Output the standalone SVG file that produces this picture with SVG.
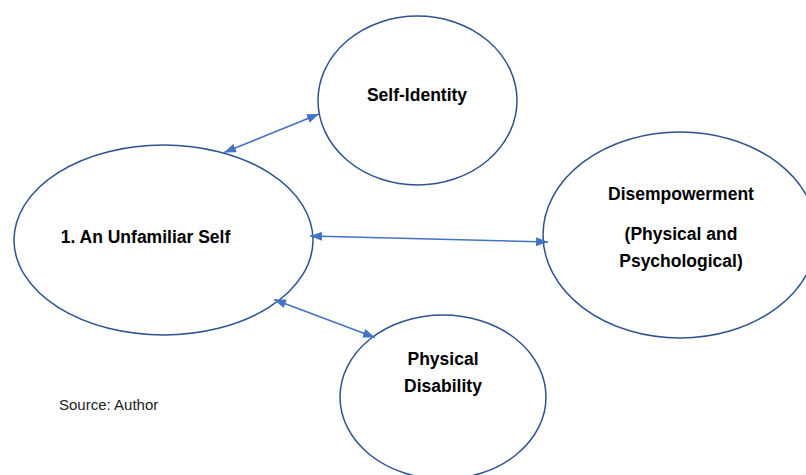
<svg xmlns="http://www.w3.org/2000/svg" width="806" height="475" viewBox="0 0 806 475">
<style>
.node{fill:#ffffff;stroke:#2F528F;stroke-width:1.5}
.lbl{font-family:"Liberation Sans",Arial,sans-serif;font-weight:bold;font-size:17.5px;fill:#000;text-anchor:middle}
.src{font-family:"Liberation Sans",Arial,sans-serif;font-size:15px;fill:#222}
.conn{stroke:#4472C4;stroke-width:1.6;fill:none;marker-start:url(#ah);marker-end:url(#ah)}
</style>
<defs>
<marker id="ah" viewBox="0 0 12 9" refX="12" refY="4.5" markerWidth="12" markerHeight="9" markerUnits="userSpaceOnUse" orient="auto-start-reverse">
<path d="M0,0 L12,4.5 L0,9 Z" fill="#4472C4"/>
</marker>
</defs>
<rect width="806" height="475" fill="#ffffff"/>
<g id="self-identity">
<ellipse class="node" cx="417.5" cy="100.5" rx="99.5" ry="84.5"/>
<text class="lbl" x="417" y="101">Self-Identity</text>
</g>
<g id="unfamiliar-self">
<ellipse class="node" cx="163.5" cy="240" rx="149.5" ry="95"/>
<text class="lbl" x="145.5" y="243">1. An Unfamiliar Self</text>
</g>
<g id="disempowerment">
<ellipse class="node" cx="680" cy="235" rx="137" ry="103"/>
<text class="lbl" x="681" y="200">Disempowerment</text>
<text class="lbl" x="681" y="240">(Physical and</text>
<text class="lbl" x="681" y="267">Psychological)</text>
</g>
<g id="physical-disability">
<ellipse class="node" cx="443" cy="397" rx="103" ry="82"/>
<text class="lbl" x="443" y="365">Physical</text>
<text class="lbl" x="443" y="392">Disability</text>
</g>
<g id="connectors">
<line class="conn" x1="224" y1="152.5" x2="319" y2="114"/>
<line class="conn" x1="310" y1="236" x2="548" y2="242"/>
<line class="conn" x1="274" y1="299.5" x2="375" y2="337.5"/>
</g>
<text class="src" x="59" y="410">Source: Author</text>
</svg>
